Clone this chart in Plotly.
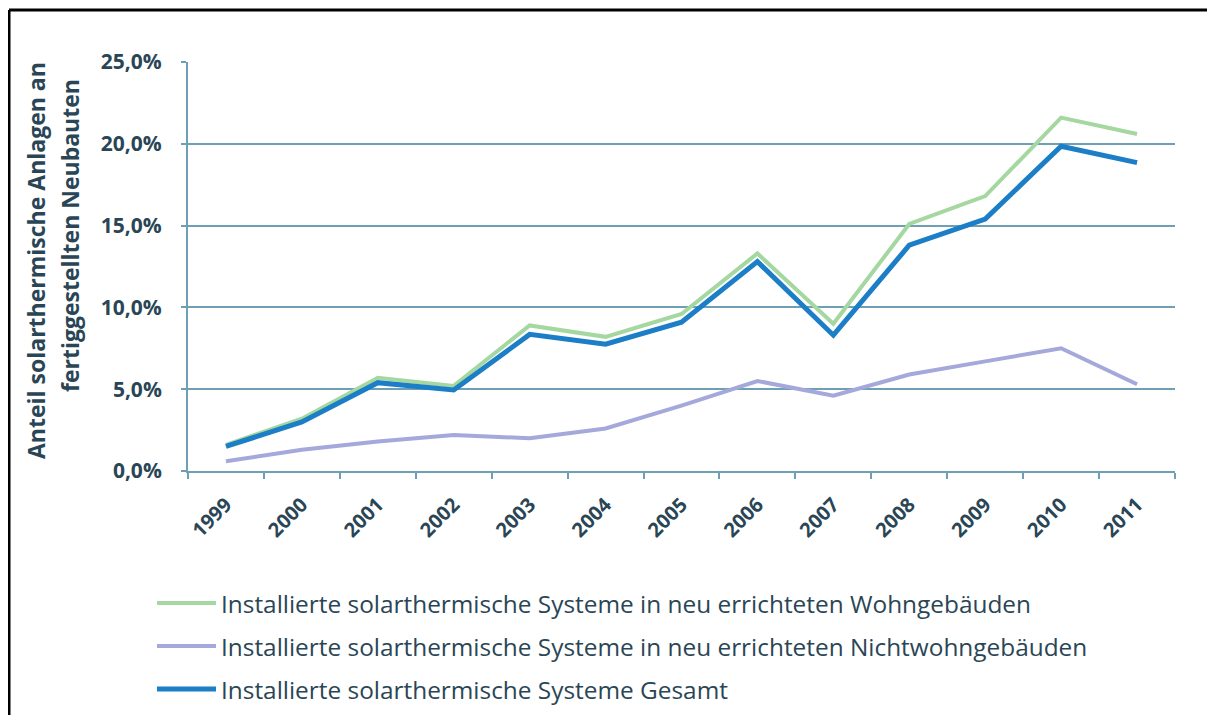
import plotly.graph_objects as go

years = ["1999", "2000", "2001", "2002", "2003", "2004", "2005", "2006", "2007", "2008", "2009", "2010", "2011"]
wohn = [1.6, 3.2, 5.7, 5.2, 8.9, 8.2, 9.6, 13.3, 9.0, 15.1, 16.8, 21.6, 20.6]
nichtwohn = [0.6, 1.3, 1.8, 2.2, 2.0, 2.6, 4.0, 5.5, 4.6, 5.9, 6.7, 7.5, 5.3]
gesamt = [1.5, 3.0, 5.4, 4.95, 8.35, 7.75, 9.1, 12.8, 8.3, 13.8, 15.4, 19.85, 18.85]

names = [
    "Installierte solarthermische Systeme in neu errichteten Wohngebäuden",
    "Installierte solarthermische Systeme in neu errichteten Nichtwohngebäuden",
    "Installierte solarthermische Systeme Gesamt",
]
colors = ["#a5d7a0", "#a5a8da", "#1b7ec6"]
widths = [4, 4, 5]

y_tickvals = [0, 5, 10, 15, 20, 25]
y_ticktext = ["0,0%", "5,0%", "10,0%", "15,0%", "20,0%", "25,0%"]
y_title_lines = ["Anteil solarthermische Anlagen an", "fertiggestellten Neubauten"]

axis_color = "#6f9fb5"
text_color = "#2a4656"
font_family = "'Open Sans', Lato, sans-serif"

fig = go.Figure()
for vals, name, col, w in zip([wohn, nichtwohn, gesamt], names, colors, widths):
    fig.add_trace(go.Scatter(x=years, y=vals, mode="lines", name=name,
                             line=dict(color=col, width=w), showlegend=False))

OFF = 8  # page body margin
W, H = 1215 - OFF, 715 - OFF
L, R, T, B = 188 - OFF, 1175 - OFF, 62 - OFF, 471 - OFF
pw, ph = R - L, B - T

def px(x):
    return (x - OFF - L) / pw

def py(y):
    return (B - (y - OFF)) / ph

shapes = [
    dict(type="line", xref="paper", yref="paper", x0=px(9), x1=px(1213), y0=py(10), y1=py(10),
         line=dict(color="black", width=3)),
    dict(type="line", xref="paper", yref="paper", x0=px(9), x1=px(9), y0=py(10), y1=py(716),
         line=dict(color="black", width=3)),
]
annotations = []
for txt, cx, cy in zip(y_title_lines, [36, 70], [261, 236]):
    annotations.append(dict(text="<b>" + txt + "</b>", xref="paper", yref="paper", x=px(cx), y=py(cy),
                            textangle=-90, showarrow=False,
                            font=dict(size=23, color=text_color, family=font_family),
                            xanchor="center", yanchor="middle"))
legend_y = [603, 646, 689]
for name, col, w, ly in zip(names, colors, widths, legend_y):
    shapes.append(dict(type="line", xref="paper", yref="paper", x0=px(157), x1=px(216),
                       y0=py(ly), y1=py(ly), line=dict(color=col, width=w)))
    annotations.append(dict(text=name, xref="paper", yref="paper", x=px(219), y=py(ly),
                            xanchor="left", yanchor="middle", showarrow=False,
                            font=dict(size=24.4, color=text_color, family=font_family)))

fig.update_layout(
    width=W, height=H,
    margin=dict(l=L, r=W - R, t=T, b=H - B),
    paper_bgcolor="white", plot_bgcolor="white",
    font=dict(family=font_family, color=text_color),
    shapes=shapes, annotations=annotations,
    showlegend=False,
)
fig.update_xaxes(
    type="category", range=[-0.5, 12.5], tickson="boundaries",
    ticks="outside", ticklen=6, tickwidth=2, tickcolor=axis_color,
    showline=True, linecolor=axis_color, linewidth=2, showgrid=False,
    tickangle=-45, ticklabelstandoff=12,
    tickfont=dict(size=20, color=text_color, family=font_family, weight="bold"),
)
fig.update_yaxes(
    range=[0, 25], tickvals=y_tickvals, ticktext=y_ticktext,
    ticks="outside", ticklen=5, tickwidth=2, tickcolor=axis_color,
    showline=True, linecolor=axis_color, linewidth=2,
    showgrid=True, gridcolor=axis_color, gridwidth=2, zeroline=False,
    ticklabelstandoff=15,
    tickfont=dict(size=21, color=text_color, family=font_family, weight="bold"),
)

fig.write_html("out.html")
